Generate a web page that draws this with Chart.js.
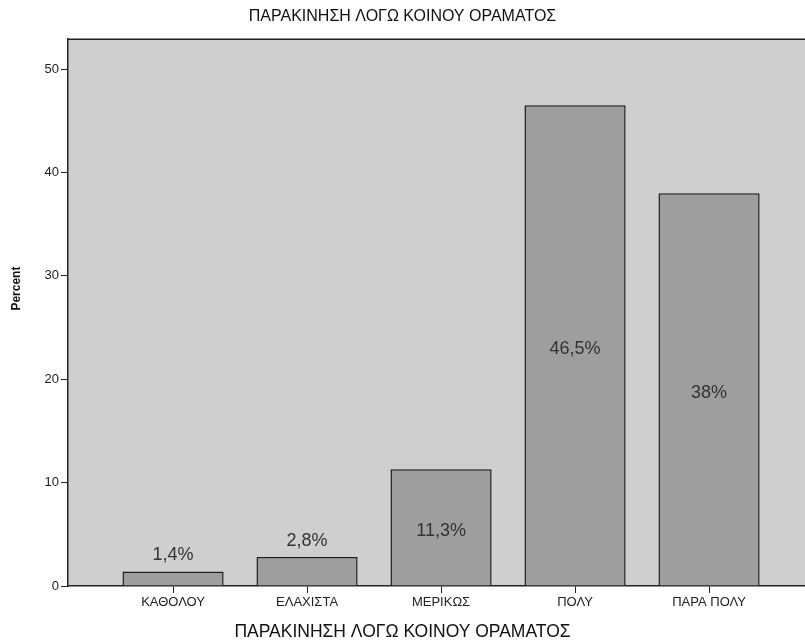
<!DOCTYPE html>
<html>
<head>
<meta charset="utf-8">
<script src="https://cdn.jsdelivr.net/npm/chart.js@4"></script>
<style>
  body { margin: 0; background: #fff; }
  #wrap { width: 805px; height: 644px; }
</style>
</head>
<body>
<div id="wrap"><canvas id="myChart" width="805" height="644"></canvas></div>
<script>
const categories = ['ΚΑΘΟΛΟΥ', 'ΕΛΑΧΙΣΤΑ', 'ΜΕΡΙΚΩΣ', 'ΠΟΛΥ', 'ΠΑΡΑ ΠΟΛΥ'];
const percents = [1.4, 2.8, 11.3, 46.5, 38];
const yTicks = [0, 10, 20, 30, 40, 50];
const chartTitle = 'ΠΑΡΑΚΙΝΗΣΗ ΛΟΓΩ ΚΟΙΝΟΥ ΟΡΑΜΑΤΟΣ';

const font = "'Liberation Sans', Arial, sans-serif";

// plot background + top frame line
const plotBg = {
  id: 'plotBg',
  beforeDraw(chart) {
    const {ctx, chartArea: a} = chart;
    ctx.save();
    ctx.fillStyle = '#cfcfcf';
    ctx.fillRect(a.left, a.top, a.right - a.left, a.bottom - a.top);
    ctx.strokeStyle = '#222';
    ctx.lineWidth = 1.5;
    ctx.beginPath();
    ctx.moveTo(a.left, a.top);
    ctx.lineTo(a.right, a.top);
    ctx.stroke();
    ctx.restore();
  }
};

// value labels + axis titles
const barLabels = {
  id: 'barLabels',
  afterDatasetsDraw(chart) {
    const {ctx, chartArea: a} = chart;
    const meta = chart.getDatasetMeta(0);
    ctx.save();
    ctx.font = '18px ' + font;
    ctx.fillStyle = '#333';
    ctx.textAlign = 'center';
    ctx.textBaseline = 'middle';
    meta.data.forEach((bar, i) => {
      const txt = String(percents[i]).replace('.', ',') + '%';
      const h = bar.base - bar.y;
      const y = h > 60 ? (bar.y + bar.base) / 2 + 4 : bar.y - 16;
      ctx.fillText(txt, bar.x, y);
    });
    // x title, centred on the page like the original
    ctx.font = '17.5px ' + font;
    ctx.fillStyle = '#111';
    ctx.fillText(chartTitle, chart.width / 2, 632);
    // y title
    ctx.translate(17, (a.top + a.bottom) / 2 - 24);
    ctx.rotate(-Math.PI / 2);
    ctx.font = 'bold 12px ' + font;
    ctx.fillText('Percent', 0, 0);
    ctx.restore();
  }
};

new Chart(document.getElementById('myChart'), {
  type: 'bar',
  data: {
    datasets: [{
      label: 'Percent',
      data: percents.map((v, i) => ({x: i + 1, y: v})),
      backgroundColor: '#9e9e9e',
      borderColor: '#1e1e1e',
      borderWidth: 1.5,
      borderSkipped: 'bottom',
      barPercentage: 0.755,
      categoryPercentage: 1
    }]
  },
  options: {
    responsive: false,
    animation: false,
    layout: { padding: 0 },
    plugins: {
      legend: { display: false },
      tooltip: { enabled: false },
      title: {
        display: true,
        text: chartTitle,
        color: '#111',
        font: { family: font, size: 16, weight: 'normal' },
        padding: { top: 7, bottom: 13 }
      }
    },
    scales: {
      x: {
        type: 'linear',
        offset: false,
        min: 0.216,
        max: 5.716,
        afterBuildTicks: s => { s.ticks = categories.map((c, i) => ({ value: i + 1 })); },
        afterFit: s => { s.height = 58; },
        grid: { display: true, offset: false, drawOnChartArea: false, drawTicks: true, tickLength: 7, color: '#222', tickColor: '#222' },
        border: { display: true, color: '#222', width: 1.5 },
        ticks: {
          autoSkip: false,
          maxRotation: 0,
          padding: 2,
          color: '#222',
          font: { family: font, size: 13 },
          callback: v => categories[v - 1] || ''
        }
      },
      y: {
        min: 0,
        max: 52.9,
        afterBuildTicks: s => { s.ticks = yTicks.map(v => ({ value: v })); },
        afterFit: s => { s.width = 68; },
        grid: { display: true, drawOnChartArea: false, drawTicks: true, tickLength: 7, tickColor: '#222' },
        border: { display: true, color: '#222', width: 1.5 },
        ticks: {
          padding: 2,
          color: '#222',
          font: { family: font, size: 13 }
        }
      }
    }
  },
  plugins: [plotBg, barLabels]
});
</script>
</body>
</html>
